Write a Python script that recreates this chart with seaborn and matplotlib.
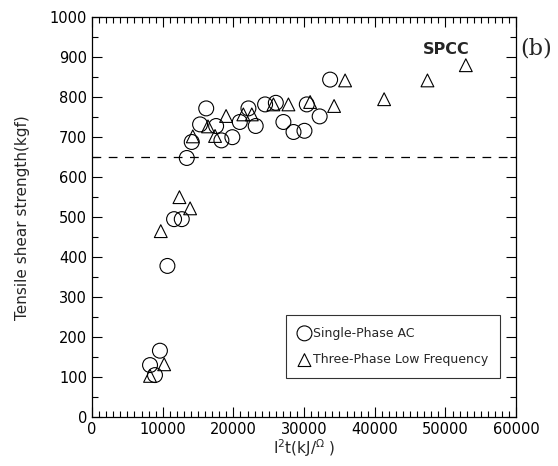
import numpy as np
import pandas as pd
import matplotlib
matplotlib.use("Agg")
import matplotlib.pyplot as plt
import seaborn as sns
from matplotlib.ticker import MultipleLocator

# Single-Phase AC (circles)
ac_x = [8200, 8900, 9600, 10660, 11600, 12690, 13400, 14100, 15280, 16150, 17550, 18300,
        19850, 20900, 22120, 23150, 24480, 26000, 27070, 28500, 30050, 30380, 32200, 33680]
ac_y = [130, 105, 166, 378, 495, 495, 648, 688, 732, 772, 728, 692,
        700, 738, 772, 728, 782, 786, 738, 713, 716, 782, 752, 844]

# Three-Phase Low Frequency (triangles)
tp_x = [8200, 10200, 9720, 12360, 13870, 14250, 16400, 17400, 18960, 21400, 22600, 25660,
        27780, 30850, 34240, 35800, 41320, 47450, 52880]
tp_y = [103, 132, 465, 550, 522, 702, 727, 703, 753, 757, 757, 782,
        782, 788, 778, 842, 795, 842, 880]

threshold = 650

sns.set_theme(style="ticks")
plt.rcParams['font.family'] = ['DejaVu Sans']

fig = plt.figure(figsize=(5.58, 4.66), dpi=100)
ax = fig.add_axes([0.165, 0.105, 0.76, 0.858])

df_ac = pd.DataFrame({'x': ac_x, 'y': ac_y})
df_tp = pd.DataFrame({'x': tp_x, 'y': tp_y})

sns.scatterplot(data=df_ac, x='x', y='y', marker='o', s=115, facecolor='none',
                edgecolor='black', linewidth=0.8, ax=ax, label='Single-Phase AC', zorder=3)
sns.scatterplot(data=df_tp, x='x', y='y', marker='^', s=85, facecolor='none',
                edgecolor='black', linewidth=0.8, ax=ax, label='Three-Phase Low Frequency', zorder=3)

ax.axhline(threshold, color='black', linestyle=(0, (7, 6)), linewidth=0.9, zorder=1)

ax.set_xlim(0, 60000)
ax.set_ylim(0, 1000)
ax.xaxis.set_major_locator(MultipleLocator(10000))
ax.xaxis.set_minor_locator(MultipleLocator(1000))
ax.yaxis.set_major_locator(MultipleLocator(100))
ax.yaxis.set_minor_locator(MultipleLocator(50))
ax.tick_params(which='both', direction='in', top=True, right=True, colors='black',
               labelsize=10.5, width=0.8)
ax.tick_params(which='major', length=7)
ax.tick_params(which='minor', length=4)
for sp in ax.spines.values():
    sp.set_color('black')
    sp.set_linewidth(0.9)

ax.set_xlabel(r'I$^{2}$t(kJ/$^{\Omega}$ )', fontsize=11, labelpad=0.5)
ax.set_ylabel('Tensile shear strength(kgf)', fontsize=11, labelpad=14)

ax.text(0.89, 0.92, 'SPCC', transform=ax.transAxes, ha='right', va='center',
        fontsize=11.5, fontweight='bold')
fig.text(0.932, 0.895, '(b)', ha='left', va='center', fontsize=16, family='DejaVu Serif')

leg = ax.legend(loc='lower right', bbox_to_anchor=(0.976, 0.083), frameon=True,
                fancybox=False, edgecolor='black', fontsize=9, handletextpad=0.1,
                borderpad=0.9, labelspacing=1.1, handlelength=1.2)
leg.get_frame().set_linewidth(0.8)

fig.savefig('out.png', dpi=100)
